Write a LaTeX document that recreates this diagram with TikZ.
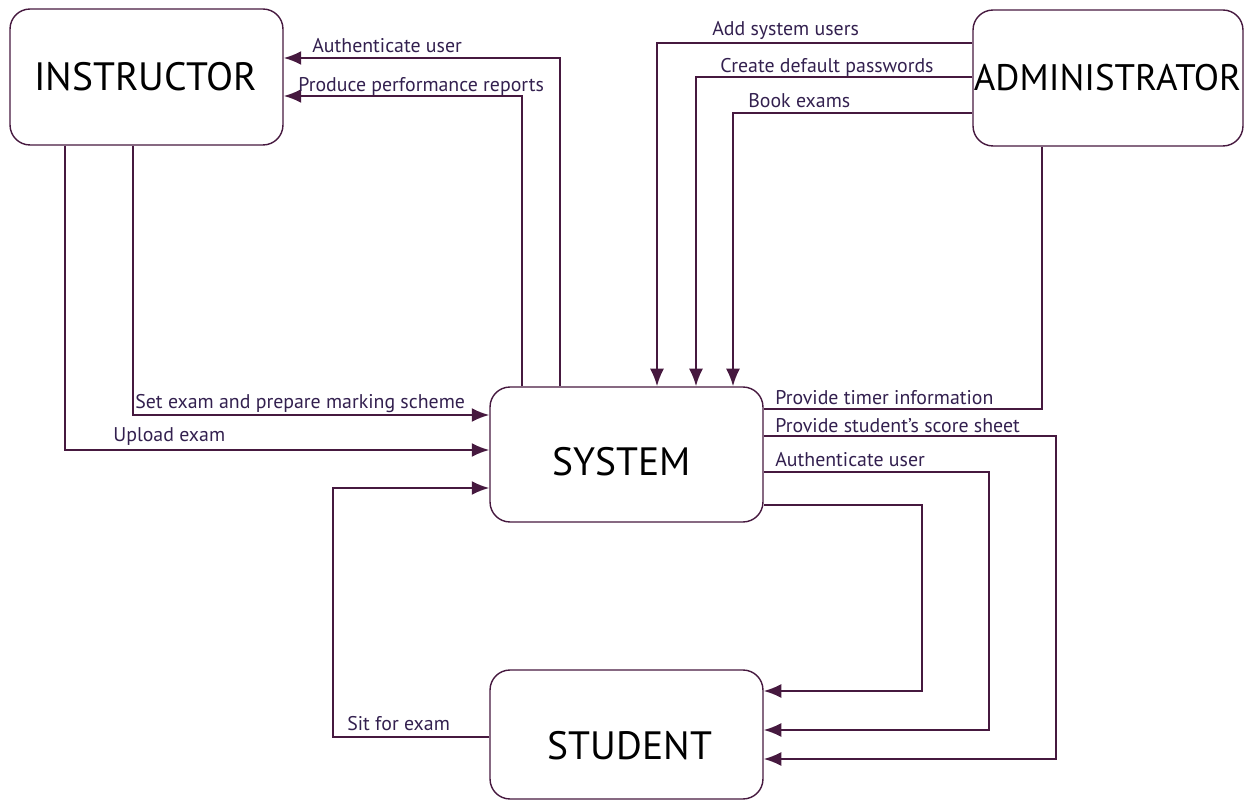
\documentclass[tikz,border=0pt]{standalone}
\usepackage{fontspec}
\setmainfont{PT Sans}
\usetikzlibrary{arrows.meta}
\definecolor{ln}{HTML}{46193F}
\definecolor{tx}{HTML}{33204F}
\begin{document}
\begin{tikzpicture}[x=0.02cm,y=-0.02cm,
 ent/.style={draw=ln, line width=0.8pt, rounded corners=0.4cm, inner sep=0, minimum width=5.46cm},
 big/.style={font=\fontsize{22.5}{26}\selectfont, text=black, inner sep=0},
 flow/.style={draw=ln, line width=1.2pt, -{Latex[length=10pt,width=8pt]}},
 plain/.style={draw=ln, line width=1.2pt},
 lbl/.style={font=\fontsize{11.3}{13}\selectfont, text=tx, inner sep=0, anchor=west}]
\useasboundingbox (0,0) rectangle (1248,803);
% entities
\node[ent, minimum height=2.72cm] (ins) at (146.5,77) {};
\node[big] (inst) at (145.5,77) {INSTRUCTOR};
\node[ent, minimum width=5.4cm, minimum height=2.72cm] (adm) at (1108,78) {};
\node[big, font=\fontsize{21}{24}\selectfont] (admt) at (1107.5,78) {ADMINISTRATOR};
\node[ent, minimum height=2.7cm] (sys) at (626.5,454.5) {};
\node[big] (syst) at (622,462) {SYSTEM};
\node[ent, minimum height=2.58cm] (stu) at (626.5,734.5) {};
\node[big] (stut) at (630,746) {STUDENT};
% instructor flows
\draw[flow] (sys.north -| 560,0) |- (ins.east |- 0,58);
\draw[flow] (sys.north -| 522,0) |- (ins.east |- 0,96);
\draw[flow] (ins.south -| 133,0) |- (sys.west |- 0,415);
\draw[flow] (ins.south -| 65,0) |- (sys.west |- 0,450);
% student to system
\draw[flow] (stu.west |- 0,737) -- (333,737) |- (sys.west |- 0,488);
% administrator flows
\draw[flow] (adm.west |- 0,43) -| (sys.north -| 657,0);
\draw[flow] (adm.west |- 0,77) -| (sys.north -| 696,0);
\draw[flow] (adm.west |- 0,113) -| (sys.north -| 733,0);
\draw[plain] (sys.east |- 0,409) -| (adm.south -| 1042,0);
% system to student
\draw[flow] (sys.east |- 0,436) -- (1056,436) |- (stu.east |- 0,759);
\draw[flow] (sys.east |- 0,472) -- (989,472) |- (stu.east |- 0,730);
\draw[flow] (sys.east |- 0,505) -- (922,505) |- (stu.east |- 0,691);
% labels
\node[lbl] (l1) at (312,46) {Authenticate user};
\node[lbl] (l2) at (298,86) {Produce performance reports};
\node[lbl] (l3) at (712,30) {Add system users};
\node[lbl] (l4) at (720,67) {Create default passwords};
\node[lbl] (l5) at (748,101) {Book exams};
\node[lbl] (l6) at (135,404) {Set exam and prepare marking scheme};
\node[lbl] (l7) at (113,437) {Upload exam};
\node[lbl] (l8) at (775,398) {Provide timer information};
\node[lbl] (l9) at (775,426) {Provide student's score sheet};
\node[lbl] (l10) at (775,460) {Authenticate user};
\node[lbl] (l11) at (347,724) {Sit for exam};
\end{tikzpicture}
\end{document}
